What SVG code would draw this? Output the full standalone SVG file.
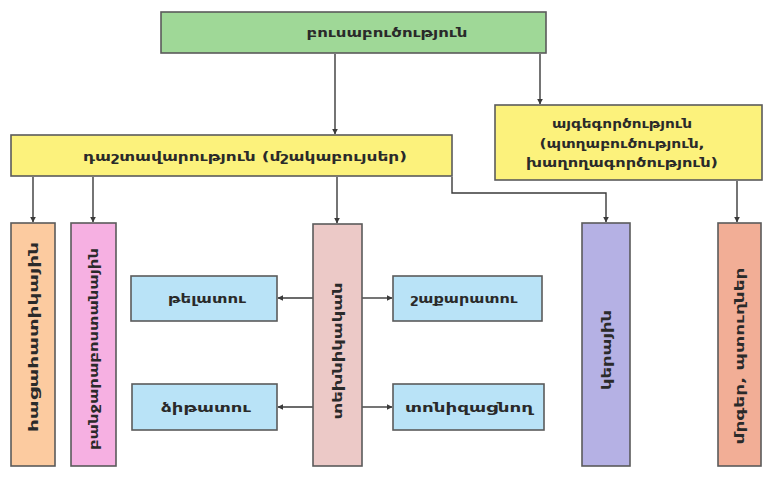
<svg xmlns="http://www.w3.org/2000/svg" width="767" height="487" viewBox="0 0 767 487">
<defs>
<style>
.box{stroke:#5b5b5b;stroke-width:1.6}
.t{font-family:"DejaVu Sans","Noto Sans",sans-serif;font-size:13px;font-weight:bold;fill:#2a2a2a;text-anchor:middle;dominant-baseline:central}
.con{fill:none;stroke:#3a3a3a;stroke-width:1.4;marker-end:url(#ah)}
</style>
<marker id="ah" viewBox="0 0 10 10" refX="9" refY="5" markerWidth="6" markerHeight="6" orient="auto" markerUnits="userSpaceOnUse">
<path d="M0,0 L10,5 L0,10 z" fill="#3a3a3a"/>
</marker>
</defs>
<rect width="767" height="487" fill="#ffffff"/>
<g id="connectors">
<path class="con" d="M335,54 V134"/>
<path class="con" d="M540,54 V104"/>
<path class="con" d="M33,177 V222"/>
<path class="con" d="M93,177 V222"/>
<path class="con" d="M337,177 V223"/>
<path class="con" d="M452,177 V193 H606 V222"/>
<path class="con" d="M737,181 V222"/>
<path class="con" d="M313,298 H278"/>
<path class="con" d="M362,298 H392"/>
<path class="con" d="M313,407 H278"/>
<path class="con" d="M362,407 H392"/>
</g>
<g id="n-busabuchutyun">
<rect class="box" x="161" y="12" width="385" height="41" fill="#9fd897"/>
<text class="t" x="387" y="32" textLength="161" lengthAdjust="spacingAndGlyphs">բուսաբուծություն</text>
</g>
<g id="n-dashtavarutyun">
<rect class="box" x="11" y="135" width="441" height="41" fill="#fcf27c"/>
<text class="t" x="245" y="156" textLength="324" lengthAdjust="spacingAndGlyphs">դաշտավարություն (մշակաբույսեր)</text>
</g>
<g id="n-aygegortsutyun">
<rect class="box" x="495" y="105" width="267" height="75" fill="#fcf27c"/>
<text class="t" x="622" y="123" textLength="140" lengthAdjust="spacingAndGlyphs">այգեգործություն</text>
<text class="t" x="622" y="143" textLength="165" lengthAdjust="spacingAndGlyphs">(պտղաբուծություն,</text>
<text class="t" x="622" y="162" textLength="192" lengthAdjust="spacingAndGlyphs">խաղողագործություն)</text>
</g>
<g id="n-hatsahatikayin">
<rect class="box" x="11" y="223" width="44" height="243" fill="#fccba0"/>
<text class="t" transform="translate(33,337) rotate(-90)" textLength="190" lengthAdjust="spacingAndGlyphs">հացահատիկային</text>
</g>
<g id="n-banjarabostanayin">
<rect class="box" x="71" y="223" width="45" height="243" fill="#f6b0e2"/>
<text class="t" transform="translate(93.5,349) rotate(-90)" textLength="202" lengthAdjust="spacingAndGlyphs">բանջարաբոստանային</text>
</g>
<g id="n-tekhnikakan">
<rect class="box" x="313" y="224" width="49" height="242" fill="#ecc9c7"/>
<text class="t" transform="translate(337.5,351) rotate(-90)" textLength="137" lengthAdjust="spacingAndGlyphs">տեխնիկական</text>
</g>
<g id="n-kerayin">
<rect class="box" x="582" y="223" width="48" height="243" fill="#b5b1e4"/>
<text class="t" transform="translate(606,350) rotate(-90)" textLength="80" lengthAdjust="spacingAndGlyphs">կերային</text>
</g>
<g id="n-mrger">
<rect class="box" x="718" y="223" width="43" height="243" fill="#f2ae96"/>
<text class="t" transform="translate(739.5,356) rotate(-90)" textLength="177" lengthAdjust="spacingAndGlyphs">մրգեր, պտուղներ</text>
</g>
<g id="n-telatu">
<rect class="box" x="131" y="276" width="146" height="45" fill="#b9e3f7"/>
<text class="t" x="207" y="298" textLength="78" lengthAdjust="spacingAndGlyphs">թելատու</text>
</g>
<g id="n-shakaratu">
<rect class="box" x="393" y="276" width="149" height="45" fill="#b9e3f7"/>
<text class="t" x="464" y="298" textLength="107" lengthAdjust="spacingAndGlyphs">շաքարատու</text>
</g>
<g id="n-dzitatu">
<rect class="box" x="132" y="384" width="145" height="46" fill="#b9e3f7"/>
<text class="t" x="206" y="407" textLength="90" lengthAdjust="spacingAndGlyphs">ձիթատու</text>
</g>
<g id="n-tonizatsnogh">
<rect class="box" x="393" y="384" width="151" height="46" fill="#b9e3f7"/>
<text class="t" x="469" y="407" textLength="128" lengthAdjust="spacingAndGlyphs">տոնիզացնող</text>
</g>
</svg>
